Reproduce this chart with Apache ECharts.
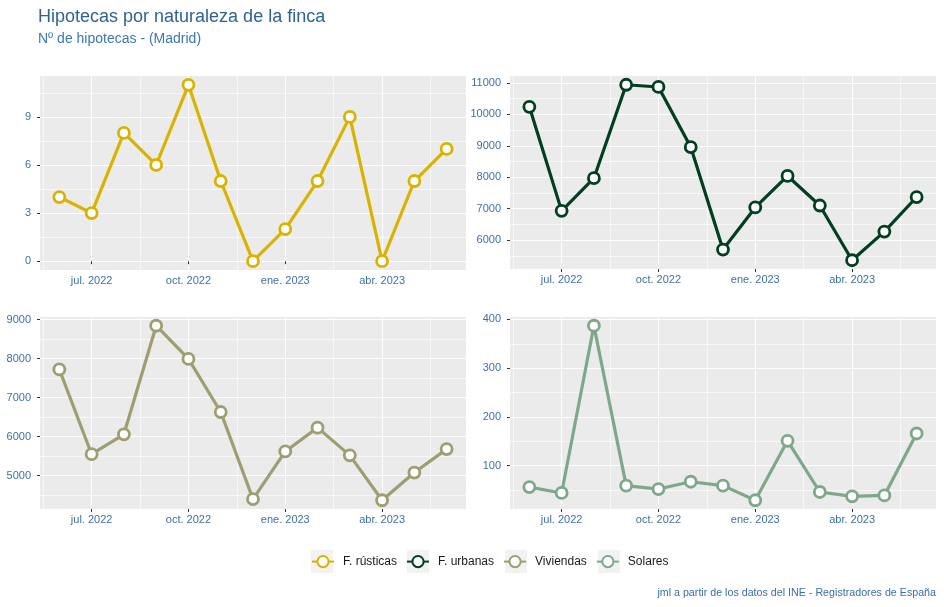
<!DOCTYPE html>
<html>
<head>
<meta charset="utf-8">
<script src="https://cdn.jsdelivr.net/npm/echarts@6/dist/echarts.min.js"></script>
<style>
html,body{margin:0;padding:0;background:#fff;}
#chart{width:944px;height:607px;}
</style>
</head>
<body>
<div id="chart"></div>
<script>
// ---- data ----
const months = ['2022-06','2022-07','2022-08','2022-09','2022-10','2022-11','2022-12',
                '2023-01','2023-02','2023-03','2023-04','2023-05','2023-06'];
const rusticas  = [4, 3, 8, 6, 11, 5, 0, 2, 5, 9, 0, 5, 7];
const urbanas   = [10240, 6930, 7970, 10940, 10870, 8960, 5700, 7040, 8040, 7100, 5360, 6270, 7370];
const viviendas = [7720, 5550, 6060, 8840, 7990, 6630, 4400, 5620, 6230, 5520, 4370, 5080, 5680];
const solares   = [56, 44, 387, 59, 52, 67, 59, 29, 151, 46, 37, 39, 166];

const seriesNames = ['F. rústicas', 'F. urbanas', 'Viviendas', 'Solares'];
const seriesColors = ['#d9b300', '#003f1f', '#9e9e70', '#7ea88a'];

const xTickMonths = ['2022-07', '2022-10', '2023-01', '2023-04'];
const xTickLabels = ['jul. 2022', 'oct. 2022', 'ene. 2023', 'abr. 2023'];

const yTicksRusticas  = [0, 3, 6, 9];
const yTicksUrbanas   = [6000, 7000, 8000, 9000, 10000, 11000];
const yTicksViviendas = [5000, 6000, 7000, 8000, 9000];
const yTicksSolares   = [100, 200, 300, 400];

// ---- helpers ----
function monthIndex(s) {
  const p = s.split('-');
  return (parseInt(p[0], 10) - 2022) * 12 + (parseInt(p[1], 10) - 1);
}
const xTickValues = xTickMonths.map(monthIndex);
function expandMin(v) { return v.min - 0.05 * (v.max - v.min); }
function expandMax(v) { return v.max + 0.05 * (v.max - v.min); }

const FONT = 'Liberation Sans, Arial, sans-serif';
const LABEL_COLOR = '#3f6fa8';

const gridsPos = [
  { left: 40, top: 76, width: 426, height: 194 },
  { left: 510, top: 76, width: 426, height: 193 },
  { left: 40, top: 317, width: 426, height: 192 },
  { left: 510, top: 317, width: 426, height: 192 }
];
const allValues = [rusticas, urbanas, viviendas, solares];
const yTicks = [yTicksRusticas, yTicksUrbanas, yTicksViviendas, yTicksSolares];
const ySplit = [4, 5, 5, 4];

const grids = gridsPos.map(g => Object.assign({
  show: true, backgroundColor: '#ebebeb', borderWidth: 0, containLabel: false
}, g));

const xAxes = gridsPos.map((g, i) => ({
  type: 'value', gridIndex: i,
  min: expandMin, max: expandMax, splitNumber: 4,
  axisLine: { show: false },
  axisTick: { show: true, length: 3, customValues: xTickValues, lineStyle: { color: '#333', width: 1 } },
  axisLabel: {
    customValues: xTickValues, margin: 5, fontSize: 11, fontFamily: FONT, color: LABEL_COLOR,
    formatter: v => { const k = xTickValues.indexOf(Math.round(v)); return k >= 0 ? xTickLabels[k] : ''; }
  },
  splitLine: { show: true, lineStyle: { color: '#ffffff', width: 1.1 } },
  minorTick: { show: false, splitNumber: 2 },
  minorSplitLine: { show: true, lineStyle: { color: '#ffffff', width: 0.6 } }
}));

const yAxes = gridsPos.map((g, i) => ({
  type: 'value', gridIndex: i,
  min: expandMin, max: expandMax, splitNumber: ySplit[i], scale: true,
  axisLine: { show: false },
  axisTick: { show: true, length: 3, customValues: yTicks[i], lineStyle: { color: '#333', width: 1 } },
  axisLabel: {
    customValues: yTicks[i], margin: 9, fontSize: 11, fontFamily: FONT, color: LABEL_COLOR,
    formatter: v => String(v)
  },
  splitLine: { show: true, lineStyle: { color: '#ffffff', width: 1.1 } },
  minorTick: { show: false, splitNumber: 2 },
  minorSplitLine: { show: true, lineStyle: { color: '#ffffff', width: 0.6 } }
}));

const series = allValues.map((vals, i) => ({
  name: seriesNames[i], type: 'line', xAxisIndex: i, yAxisIndex: i,
  data: vals.map((v, k) => [monthIndex(months[k]), v]),
  symbol: 'circle', symbolSize: 11, showSymbol: true,
  lineStyle: { color: seriesColors[i], width: 3.2 },
  itemStyle: { color: '#ffffff', borderColor: seriesColors[i], borderWidth: 2.8 },
  emphasis: { disabled: true },
  z: 3
}));

const legendBoxX = [311, 407, 505, 598];

const option = {
  animation: false,
  backgroundColor: '#ffffff',
  title: [
    {
      text: 'Hipotecas por naturaleza de la finca',
      subtext: 'Nº de hipotecas - (Madrid)',
      left: 33, top: 3, itemGap: 6,
      textStyle: { fontFamily: FONT, fontSize: 18, fontWeight: 'normal', color: '#2f6393' },
      subtextStyle: { fontFamily: FONT, fontSize: 14, color: '#3d78b0' }
    },
    {
      text: 'jml a partir de los datos del INE - Registradores de España',
      right: 3, bottom: 3,
      textStyle: { fontFamily: FONT, fontSize: 10.7, fontWeight: 'normal', color: '#3b6ea8' }
    }
  ],
  legend: {
    data: seriesNames,
    left: 306, top: 550, orient: 'horizontal',
    itemWidth: 22, itemHeight: 14, itemGap: 9,
    textStyle: { fontFamily: FONT, fontSize: 12, color: '#1a1a1a', padding: [0, 0, 0, 4] },
    selectedMode: false
  },
  graphic: legendBoxX.map(x => ({
    type: 'rect', left: x, top: 550, z: -1, silent: true,
    shape: { width: 22, height: 23 }, style: { fill: '#f2f2f2' }
  })),
  grid: grids,
  xAxis: xAxes,
  yAxis: yAxes,
  series: series
};

const chart = echarts.init(document.getElementById('chart'), null, { renderer: 'canvas' });
chart.setOption(option);
</script>
</body>
</html>
